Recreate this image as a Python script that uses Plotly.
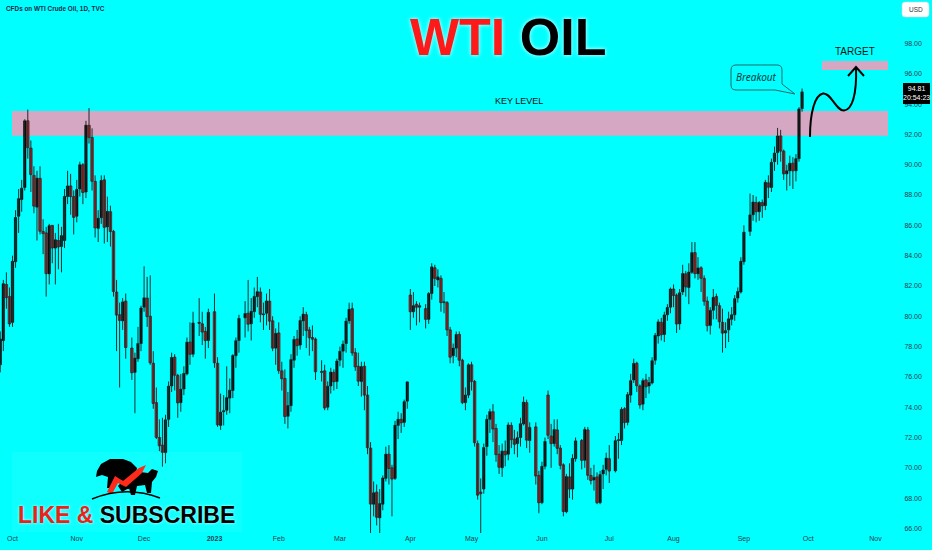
import plotly.graph_objects as go

# ---------------- data ----------------
dates = [
    "2022-09-27", "2022-09-28", "2022-09-29", "2022-09-30",
    "2022-10-03", "2022-10-04", "2022-10-05", "2022-10-06", "2022-10-07", "2022-10-10", "2022-10-11",
    "2022-10-12", "2022-10-13", "2022-10-14", "2022-10-17", "2022-10-18", "2022-10-19", "2022-10-20",
    "2022-10-21", "2022-10-24", "2022-10-25", "2022-10-26", "2022-10-27", "2022-10-28", "2022-10-31",
    "2022-11-01", "2022-11-02", "2022-11-03", "2022-11-04", "2022-11-07", "2022-11-08", "2022-11-09",
    "2022-11-10", "2022-11-11", "2022-11-14", "2022-11-15", "2022-11-16", "2022-11-17", "2022-11-18",
    "2022-11-21", "2022-11-22", "2022-11-23", "2022-11-25", "2022-11-28", "2022-11-29", "2022-11-30",
    "2022-12-01", "2022-12-02", "2022-12-05", "2022-12-06", "2022-12-07", "2022-12-08", "2022-12-09",
    "2022-12-12", "2022-12-13", "2022-12-14", "2022-12-15", "2022-12-16", "2022-12-19", "2022-12-20",
    "2022-12-21", "2022-12-22", "2022-12-23", "2022-12-27", "2022-12-28", "2022-12-29", "2022-12-30",
    "2023-01-03", "2023-01-04", "2023-01-05", "2023-01-06", "2023-01-09", "2023-01-10", "2023-01-11",
    "2023-01-12", "2023-01-13", "2023-01-17", "2023-01-18", "2023-01-19", "2023-01-20", "2023-01-23",
    "2023-01-24", "2023-01-25", "2023-01-26", "2023-01-27", "2023-01-30", "2023-01-31",
    "2023-02-01", "2023-02-02", "2023-02-03", "2023-02-06", "2023-02-07", "2023-02-08", "2023-02-09",
    "2023-02-10", "2023-02-13", "2023-02-14", "2023-02-15", "2023-02-16", "2023-02-17", "2023-02-21",
    "2023-02-22", "2023-02-23", "2023-02-24", "2023-02-27", "2023-02-28",
    "2023-03-01", "2023-03-02", "2023-03-03", "2023-03-06", "2023-03-07", "2023-03-08", "2023-03-09",
    "2023-03-10", "2023-03-13", "2023-03-14", "2023-03-15", "2023-03-16", "2023-03-17", "2023-03-20",
    "2023-03-21", "2023-03-22", "2023-03-23", "2023-03-24", "2023-03-27", "2023-03-28", "2023-03-29",
    "2023-03-30", "2023-03-31",
    "2023-04-03", "2023-04-04", "2023-04-05", "2023-04-06", "2023-04-10", "2023-04-11", "2023-04-12",
    "2023-04-13", "2023-04-14", "2023-04-17", "2023-04-18", "2023-04-19", "2023-04-20", "2023-04-21",
    "2023-04-24", "2023-04-25", "2023-04-26", "2023-04-27", "2023-04-28",
    "2023-05-01", "2023-05-02", "2023-05-03", "2023-05-04", "2023-05-05", "2023-05-08", "2023-05-09",
    "2023-05-10", "2023-05-11", "2023-05-12", "2023-05-15", "2023-05-16", "2023-05-17", "2023-05-18",
    "2023-05-19", "2023-05-22", "2023-05-23", "2023-05-24", "2023-05-25", "2023-05-26", "2023-05-30",
    "2023-05-31",
    "2023-06-01", "2023-06-02", "2023-06-05", "2023-06-06", "2023-06-07", "2023-06-08", "2023-06-09",
    "2023-06-12", "2023-06-13", "2023-06-14", "2023-06-15", "2023-06-16", "2023-06-20", "2023-06-21",
    "2023-06-22", "2023-06-23", "2023-06-26", "2023-06-27", "2023-06-28", "2023-06-29", "2023-06-30",
    "2023-07-03", "2023-07-05", "2023-07-06", "2023-07-07", "2023-07-10", "2023-07-11", "2023-07-12",
    "2023-07-13", "2023-07-14", "2023-07-17", "2023-07-18", "2023-07-19", "2023-07-20", "2023-07-21",
    "2023-07-24", "2023-07-25", "2023-07-26", "2023-07-27", "2023-07-28", "2023-07-31",
    "2023-08-01", "2023-08-02", "2023-08-03", "2023-08-04", "2023-08-07", "2023-08-08", "2023-08-09",
    "2023-08-10", "2023-08-11", "2023-08-14", "2023-08-15", "2023-08-16", "2023-08-17", "2023-08-18",
    "2023-08-21", "2023-08-22", "2023-08-23", "2023-08-24", "2023-08-25", "2023-08-28", "2023-08-29",
    "2023-08-30", "2023-08-31",
    "2023-09-01", "2023-09-05", "2023-09-06", "2023-09-07", "2023-09-08", "2023-09-11", "2023-09-12",
    "2023-09-13", "2023-09-14", "2023-09-15", "2023-09-18", "2023-09-19", "2023-09-20", "2023-09-21",
    "2023-09-22", "2023-09-25", "2023-09-26", "2023-09-27", "2023-09-28",
]

opens = [
    76.8, 78.4, 82.1, 81.3,
    79.6, 83.6, 86.6, 87.7, 88.5, 92.9, 91.1, 89.3, 87.2, 89.1, 85.6, 85.5, 82.8, 86.0, 84.5, 85.0, 84.6, 85.0, 87.9, 88.6, 87.9,
    86.6, 88.4, 90.0, 88.2, 92.6, 91.8, 88.9, 85.8, 86.5, 89.0, 85.9, 86.9, 85.6, 81.6, 80.1, 79.7, 81.0, 77.9, 76.3, 77.2, 78.2,
    80.6, 81.2, 80.0, 76.9, 74.3, 72.0, 71.5, 71.0, 73.2, 75.4, 77.3, 76.1, 74.3, 75.2, 76.2, 78.3, 77.5, 79.6, 79.5, 79.0, 78.4,
    80.3, 76.9, 72.8, 73.7, 73.8, 74.6, 75.1, 77.4, 78.4, 79.9, 80.2, 79.5, 80.3, 81.3, 81.6, 80.1, 80.2, 81.0, 79.7, 77.9,
    78.9, 76.4, 75.9, 73.4, 74.1, 77.1, 78.5, 78.1, 79.7, 80.1, 79.1, 78.6, 78.5, 76.3, 76.4, 74.0, 75.4, 76.3, 75.7,
    77.1, 77.7, 78.2, 79.7, 80.5, 77.6, 76.7, 75.7, 76.7, 74.8, 71.3, 67.6, 68.4, 66.7, 67.6, 69.3, 70.9, 70.0, 69.3, 72.8, 73.2, 73.0, 74.4,
    81.4, 80.3, 80.8, 80.6, 80.5, 79.8, 81.5, 83.2, 82.4, 82.5, 80.9, 80.9, 79.1, 77.4, 77.9, 78.8, 77.1, 74.3, 74.8,
    76.8, 75.7, 71.6, 68.4, 68.6, 71.4, 73.2, 73.7, 72.6, 70.9, 70.0, 71.1, 70.9, 72.8, 71.9, 71.6, 72.0, 72.9, 74.3, 71.8, 72.7, 69.5,
    67.7, 70.1, 74.8, 72.1, 71.6, 72.5, 71.3, 70.2, 67.1, 69.4, 68.6, 70.6, 71.8, 70.5, 72.5, 69.5, 69.2, 69.4, 67.7, 69.6, 69.9,
    70.6, 69.8, 71.8, 71.8, 73.9, 73.0, 74.8, 75.8, 76.9, 75.4, 74.2, 75.8, 75.4, 75.6, 77.1, 78.7, 79.6, 78.8, 80.1, 80.6,
    81.8, 81.4, 79.5, 81.6, 82.8, 81.9, 82.9, 84.2, 82.8, 83.2, 82.5, 81.0, 79.4, 80.4, 81.3, 80.7, 79.6, 78.9, 79.1, 79.8, 80.1, 81.2, 81.6,
    83.6, 85.6, 86.7, 87.5, 86.9, 87.5, 87.3, 88.8, 88.5, 90.2, 90.8, 91.9, 90.9, 89.4, 89.6, 90.1, 89.6, 90.4, 93.7,
]

highs = [
    79.0, 82.4, 82.9, 81.9,
    84.0, 87.0, 88.4, 89.0, 93.0, 93.64, 91.6, 89.9, 89.6, 89.9, 86.4, 85.9, 86.1, 86.0, 85.5, 86.1, 85.9, 88.4, 89.6, 89.4, 88.3,
    89.0, 90.2, 90.1, 92.9, 93.74, 92.4, 89.3, 87.0, 89.3, 89.3, 87.9, 87.3, 85.7, 82.4, 80.9, 81.2, 81.5, 78.6, 77.6, 79.3, 80.7,
    83.3, 82.6, 82.7, 77.7, 75.3, 73.2, 73.3, 73.5, 75.7, 77.6, 77.5, 76.2, 76.2, 76.7, 78.6, 79.6, 80.3, 81.2, 80.3, 79.3, 80.5,
    81.5, 77.3, 74.9, 74.8, 76.7, 75.9, 77.5, 78.6, 80.1, 81.0, 82.4, 81.2, 81.9, 82.6, 81.9, 80.9, 81.5, 81.8, 80.0, 79.2,
    79.6, 77.0, 76.5, 75.0, 77.5, 78.7, 79.1, 80.0, 80.6, 80.3, 79.3, 79.4, 78.6, 77.1, 76.8, 75.7, 76.6, 76.5, 77.2,
    78.0, 78.4, 79.9, 80.9, 80.9, 77.9, 77.6, 77.0, 77.0, 75.4, 71.7, 69.1, 68.9, 68.6, 69.5, 71.4, 71.5, 70.2, 73.1, 73.7, 73.6, 74.5, 75.7,
    81.8, 81.6, 81.0, 80.9, 80.8, 81.6, 83.5, 83.4, 83.1, 82.7, 81.6, 81.0, 79.3, 78.2, 79.0, 79.0, 77.2, 75.3, 76.9,
    77.0, 75.8, 71.8, 69.3, 71.6, 73.5, 73.9, 74.2, 72.9, 71.5, 71.6, 71.8, 73.0, 73.0, 72.5, 72.4, 73.3, 74.7, 74.5, 73.0, 73.0, 69.8,
    70.4, 72.0, 75.1, 72.9, 73.2, 73.2, 71.5, 70.3, 69.6, 70.3, 70.9, 72.0, 71.9, 72.7, 72.7, 70.0, 70.2, 69.7, 69.8, 70.2, 71.0,
    71.5, 72.1, 72.3, 74.0, 74.0, 75.0, 76.2, 77.2, 77.0, 75.5, 75.9, 76.2, 76.0, 77.3, 78.9, 79.8, 79.9, 80.3, 80.8, 81.9,
    82.1, 81.5, 81.8, 83.4, 83.0, 83.5, 84.9, 84.9, 83.9, 83.3, 82.7, 81.3, 80.6, 81.8, 81.5, 80.9, 80.5, 79.6, 80.3, 80.6, 81.4, 81.9, 83.9,
    86.0, 88.1, 88.0, 87.9, 87.6, 87.7, 89.0, 89.3, 90.4, 91.2, 92.43, 92.3, 91.0, 90.0, 90.6, 90.5, 90.7, 93.8, 95.03,
]

lows = [
    76.3, 77.7, 80.5, 79.3,
    79.3, 83.2, 85.5, 86.9, 88.3, 90.4, 88.2, 86.8, 85.0, 85.4, 84.1, 81.3, 82.1, 83.5, 82.1, 83.1, 82.9, 84.5, 87.4, 86.7, 85.4,
    86.2, 87.9, 87.4, 87.8, 91.4, 88.3, 85.2, 84.9, 86.1, 84.8, 84.9, 84.6, 81.3, 77.7, 75.3, 79.1, 77.2, 75.8, 73.6, 77.0, 77.7,
    80.3, 79.3, 76.8, 73.9, 71.9, 71.1, 70.08, 70.3, 72.7, 75.0, 75.1, 73.3, 73.7, 74.8, 76.1, 76.8, 77.3, 78.7, 78.1, 77.2, 77.9,
    76.6, 72.7, 72.5, 72.8, 73.5, 73.6, 74.6, 76.6, 77.6, 78.6, 79.0, 78.4, 79.9, 80.6, 79.6, 79.1, 79.4, 79.1, 77.7, 76.8,
    76.2, 75.1, 72.9, 72.6, 73.7, 76.6, 77.4, 77.8, 78.7, 77.9, 77.4, 77.7, 75.8, 75.7, 73.8, 73.8, 74.9, 75.1, 75.2,
    76.7, 76.6, 77.6, 79.5, 77.4, 76.4, 75.4, 74.7, 73.8, 70.9, 65.65, 66.8, 66.2, 64.12, 67.2, 69.1, 68.9, 66.8, 69.2, 71.9, 72.3, 72.7, 73.9,
    79.1, 79.9, 79.4, 79.6, 79.2, 79.5, 81.1, 82.0, 81.9, 80.3, 80.2, 78.7, 76.9, 76.9, 77.3, 76.7, 74.2, 73.8, 74.6,
    75.1, 71.4, 67.9, 63.64, 68.3, 70.8, 72.3, 71.7, 70.4, 69.6, 69.4, 70.1, 70.5, 71.3, 70.9, 70.7, 71.4, 72.8, 71.3, 71.0, 68.9, 67.0,
    67.6, 69.9, 71.9, 70.0, 71.4, 70.9, 69.9, 66.8, 67.0, 68.0, 67.9, 70.4, 69.9, 70.0, 69.2, 68.9, 68.5, 67.6, 67.6, 68.6, 69.5,
    69.0, 69.7, 70.6, 71.5, 72.6, 72.8, 74.3, 75.6, 75.0, 73.9, 73.8, 74.6, 74.9, 75.5, 76.8, 78.2, 78.4, 78.3, 79.7, 80.2,
    80.6, 78.9, 79.1, 81.4, 81.3, 80.8, 82.8, 82.5, 82.4, 81.6, 80.7, 79.0, 78.8, 79.8, 79.8, 79.2, 77.6, 77.9, 78.3, 79.4, 79.7, 80.9, 81.5,
    83.4, 85.3, 86.3, 86.2, 86.3, 86.5, 87.0, 87.8, 88.2, 89.6, 90.0, 90.2, 89.0, 88.3, 88.6, 88.4, 88.9, 90.2, 93.5,
]

closes = [
    78.5, 82.15, 81.23, 79.5,
    83.63, 86.52, 87.76, 88.45, 92.9, 91.13, 89.35, 87.27, 89.11, 85.61, 85.46, 82.82, 85.98, 84.51, 85.05, 84.58, 85.32, 87.91, 88.6, 87.90, 86.53,
    88.37, 90.0, 88.17, 92.61, 91.79, 88.91, 85.83, 86.47, 88.96, 85.87, 86.92, 85.59, 81.64, 80.08, 79.73, 80.95, 77.94, 76.28, 77.24, 78.20, 80.55,
    81.22, 79.98, 76.93, 74.25, 72.01, 71.46, 71.02, 73.17, 75.39, 77.28, 76.11, 74.29, 75.19, 76.23, 78.29, 77.49, 79.56, 79.53, 78.96, 78.40, 80.26,
    76.93, 72.84, 73.67, 73.77, 74.63, 75.12, 77.41, 78.39, 79.86, 80.18, 79.48, 80.33, 81.31, 81.62, 80.13, 80.15, 81.01, 79.68, 77.90, 78.87,
    76.41, 75.88, 73.39, 74.11, 77.14, 78.47, 78.06, 79.72, 80.14, 79.06, 78.59, 78.49, 76.34, 76.36, 73.95, 75.39, 76.32, 75.68, 77.05,
    77.69, 78.16, 79.68, 80.46, 77.58, 76.66, 75.72, 76.68, 74.80, 71.33, 67.61, 68.35, 66.74, 67.64, 69.33, 70.90, 69.96, 69.26, 72.81, 73.20, 72.97, 74.37, 75.67,
    80.3, 80.7, 80.6, 80.7, 79.8, 81.5, 83.26, 82.5, 82.6, 80.9, 80.9, 79.1, 77.3, 77.9, 78.8, 77.1, 74.3, 74.8, 76.8,
    75.7, 71.66, 68.2, 68.3, 71.34, 73.2, 73.71, 72.56, 70.87, 70.04, 71.11, 70.86, 72.83, 71.86, 71.55, 71.99, 72.91, 74.34, 71.83, 72.67, 69.46, 67.7,
    70.10, 71.74, 72.15, 71.6, 72.53, 71.29, 70.17, 67.12, 69.42, 68.6, 70.62, 71.78, 70.50, 72.53, 69.51, 69.16, 69.37, 67.70, 69.56, 69.86, 70.64,
    69.79, 71.79, 71.80, 73.86, 72.99, 74.83, 75.75, 76.89, 75.42, 74.15, 75.75, 75.35, 75.63, 77.07, 78.74, 79.63, 78.78, 80.09, 80.58, 81.80,
    81.37, 79.49, 81.55, 82.82, 81.94, 82.92, 84.2, 82.82, 83.19, 82.51, 80.99, 79.38, 80.39, 81.25, 80.72, 79.64, 78.89, 79.05, 79.83, 80.10, 81.16, 81.63, 83.63,
    85.55, 86.69, 87.54, 86.9, 87.51, 87.29, 88.84, 88.52, 90.16, 90.77, 91.9, 90.9, 89.4, 89.6, 90.1, 89.6, 90.4, 93.68, 94.81,
]

assert len(dates) == len(opens) == len(highs) == len(lows) == len(closes)

month_tick_dates = ["2022-10-03", "2022-11-01", "2022-12-01", "2023-01-03", "2023-02-01", "2023-03-01",
                    "2023-04-03", "2023-05-01", "2023-06-01", "2023-07-03", "2023-08-01", "2023-09-01",
                    "2023-10-02", "2023-11-01"]
month_tick_labels = ["Oct", "Nov", "Dec", "<b>2023</b>", "Feb", "Mar", "Apr", "May", "Jun", "Jul",
                     "Aug", "Sep", "Oct", "Nov"]
price_ticks = list(range(66, 100, 2))
price_tick_labels = [f"{v:.2f}" for v in price_ticks]

key_level = (91.92, 93.55)
target_zone = (96.25, 96.85)
last_price = "94.81"
countdown = "20:54:23"

# ---------------- layout geometry ----------------
W, H = 932, 550
ML, MR, MT, MB = 0, 44, 0, 17
PW, PH = W - ML - MR, H - MT - MB
BG = "#00ffff"
PINK = "#d5a7c3"
LABEL_FONT = "Liberation Sans Narrow, Liberation Sans, Arial"
DAY_MS = 86400000


def fx(px):
    return (px - ML) / PW


def fy(py):
    return 1 - (py - MT) / PH


def path(points_cmds):
    out = []
    for cmd in points_cmds:
        if isinstance(cmd, str):
            out.append(cmd)
        else:
            out.append(f"{fx(cmd[0]):.5f},{fy(cmd[1]):.5f}")
    return " ".join(out)


# candles centred at midday so that bar widths never touch the weekend breaks
xs = [d + " 12:00" for d in dates]

wick_x, wick_y = [], []
for x, lo, hi in zip(xs, lows, highs):
    wick_x += [x, x, None]
    wick_y += [lo, hi, None]

up_x, up_base, up_h, dn_x, dn_base, dn_h = [], [], [], [], [], []
for x, o, c in zip(xs, opens, closes):
    h = max(abs(c - o), 0.06)
    if c >= o:
        up_x.append(x); up_base.append(min(o, c)); up_h.append(h)
    else:
        dn_x.append(x); dn_base.append(min(o, c)); dn_h.append(h)

fig = go.Figure()
fig.add_trace(go.Scatter(x=wick_x, y=wick_y, mode="lines", line=dict(color="#1e2c2c", width=1),
                         hoverinfo="skip", showlegend=False))
fig.add_trace(go.Bar(x=up_x, y=up_h, base=up_base, width=0.8 * DAY_MS,
                     marker=dict(color="#000000", line=dict(color="#000000", width=0.5)),
                     hoverinfo="skip", showlegend=False))
fig.add_trace(go.Bar(x=dn_x, y=dn_h, base=dn_base, width=0.8 * DAY_MS,
                     marker=dict(color="#ee1c1c", line=dict(color="#3a2222", width=0.8)),
                     hoverinfo="skip", showlegend=False))

shapes = []
# key level band
shapes.append(dict(type="rect", xref="paper", yref="y", x0=fx(12), x1=1.0,
                   y0=key_level[0], y1=key_level[1], fillcolor=PINK, line=dict(width=0), layer="below"))
# target band
shapes.append(dict(type="rect", xref="paper", yref="y", x0=fx(822), x1=1.0,
                   y0=target_zone[0], y1=target_zone[1], fillcolor=PINK, line=dict(width=0), layer="below"))
# breakout callout
shapes.append(dict(type="path", xref="paper", yref="paper",
                   path=path(["M", (736, 65), "L", (777, 65), "Q", (782, 65), (782, 70), "L", (782, 84),
                              "L", (795, 94), "L", (775, 90), "L", (736, 90), "Q", (731, 90), (731, 85),
                              "L", (731, 70), "Q", (731, 65), (736, 65), "Z"]),
                   line=dict(color="#1f6b6b", width=1), fillcolor="rgba(0,0,0,0)"))
# projected curve arrow
shapes.append(dict(type="path", xref="paper", yref="paper",
                   path=path(["M", (810, 137), "C", (810, 112), (815, 95), (823, 93.5),
                              "C", (831, 92.5), (836, 111), (844, 110.5),
                              "C", (852, 110), (857, 95), (856, 67)]),
                   line=dict(color="#000000", width=2), fillcolor="rgba(0,0,0,0)"))
shapes.append(dict(type="path", xref="paper", yref="paper",
                   path=path(["M", (848, 76), "L", (856, 67), "L", (864, 76)]),
                   line=dict(color="#000000", width=2), fillcolor="rgba(0,0,0,0)"))
# price label & USD box on the scale
shapes.append(dict(type="rect", xref="paper", yref="paper", x0=fx(903), x1=fx(930), y0=fy(104), y1=fy(83),
                   fillcolor="#000000", line=dict(width=0)))
shapes.append(dict(type="path", xref="paper", yref="paper",
                   path=path(["M", (905, 2), "L", (926, 2), "Q", (929, 2), (929, 5), "L", (929, 14),
                              "Q", (929, 17), (926, 17), "L", (905, 17), "Q", (902, 17), (902, 14),
                              "L", (902, 5), "Q", (902, 2), (905, 2), "Z"]),
                   fillcolor="#ffffff", line=dict(color="#cfd8dc", width=0.6)))
# logo: faint glow panel, animals, arc
shapes.append(dict(type="rect", xref="paper", yref="paper", x0=fx(12), x1=fx(242), y0=fy(532), y1=fy(452),
                   fillcolor="rgba(255,255,255,0.06)", line=dict(width=0)))
shapes.append(dict(type="path", xref="paper", yref="paper",
                   path=path(["M", (97, 471), "L", (101, 464), "L", (110, 459), "L", (123, 459), "L", (131, 462),
                              "L", (137, 468), "L", (135, 478), "L", (129, 489), "L", (124, 489), "L", (123, 481),
                              "L", (115, 478), "L", (111, 488), "L", (107, 488), "L", (108, 477), "L", (102, 475),
                              "L", (96, 477), "Z"]),
                   fillcolor="#000000", line=dict(width=0)))
shapes.append(dict(type="path", xref="paper", yref="paper",
                   path=path(["M", (118, 486), "L", (127, 476), "L", (140, 472), "L", (148, 473), "L", (152, 469),
                              "L", (158, 471), "L", (156, 477), "L", (152, 482), "L", (151, 493), "L", (147, 493),
                              "L", (145, 485), "L", (137, 486), "L", (135, 495), "L", (131, 495), "L", (129, 488),
                              "L", (122, 492), "Z"]),
                   fillcolor="#000000", line=dict(width=0)))
shapes.append(dict(type="path", xref="paper", yref="paper",
                   path=path(["M", (107, 492), "L", (115, 476), "L", (123, 481), "L", (139, 468), "L", (146, 465),
                              "L", (142, 473), "L", (126, 487), "L", (118, 483), "L", (112, 494), "Z"]),
                   fillcolor="#ff2a1a", line=dict(width=0)))
shapes.append(dict(type="path", xref="paper", yref="paper",
                   path=path(["M", (92, 499), "Q", (126, 485), (160, 498)]),
                   line=dict(color="#000000", width=1.5), fillcolor="rgba(0,0,0,0)"))

annotations = [
    dict(text="CFDs on WTI Crude Oil, 1D, TVC", x=fx(4), y=fy(9), xanchor="left", yanchor="middle",
         font=dict(family=LABEL_FONT, size=6.4, color="#1b2a48", weight="bold")),
    dict(text='<span style="color:#ff1a1a">WTI</span> <span style="color:#000000">OIL</span>',
         x=fx(508), y=fy(37), xanchor="center", yanchor="middle",
         font=dict(family="Liberation Sans, Arial", size=52, weight="bold",
                   shadow="0px 0px 4px rgba(255,255,255,0.9)")),
    dict(text="KEY LEVEL", x=fx(519), y=fy(101), xanchor="center", yanchor="middle",
         font=dict(family=LABEL_FONT, size=9, color="#111111")),
    dict(text="TARGET", x=fx(855), y=fy(51), xanchor="center", yanchor="middle",
         font=dict(family=LABEL_FONT, size=10, color="#111111")),
    dict(text="<i>Breakout</i>", x=fx(756), y=fy(77), xanchor="center", yanchor="middle",
         font=dict(family="Noto Sans, DejaVu Sans", size=10, color="#14393d")),
    dict(text="USD", x=fx(915.5), y=fy(9.5), xanchor="center", yanchor="middle",
         font=dict(family=LABEL_FONT, size=6.5, color="#333333")),
    dict(text=f"{last_price}<br>{countdown}", x=fx(916.5), y=fy(93.5), xanchor="center", yanchor="middle",
         font=dict(family=LABEL_FONT, size=7, color="#ffffff")),
    dict(text='<span style="color:#e8231a">LIKE &amp;</span> <span style="color:#000000">SUBSCRIBE</span>',
         x=fx(126), y=fy(515), xanchor="center", yanchor="middle",
         font=dict(family="Liberation Sans, Arial", size=23, weight="bold",
                   shadow="0px 0px 3px rgba(255,255,255,0.8)")),
]
for a in annotations:
    a.update(xref="paper", yref="paper", showarrow=False)

fig.update_layout(
    width=W, height=H,
    margin=dict(l=ML, r=MR, t=MT, b=MB, pad=0),
    paper_bgcolor=BG, plot_bgcolor=BG,
    showlegend=False, barmode="overlay",
    shapes=shapes, annotations=annotations,
    xaxis=dict(
        type="date",
        rangebreaks=[dict(bounds=["sat", "mon"])],
        range=["2022-09-27 10:00", "2023-11-07 14:00"],
        tickvals=[d + " 12:00" for d in month_tick_dates], ticktext=month_tick_labels,
        tickfont=dict(family=LABEL_FONT, size=7, color="#2b3a4c"),
        showgrid=False, zeroline=False, showline=False, ticks="",
        fixedrange=True,
    ),
    yaxis=dict(
        side="right",
        range=[65.70, 100.87],
        tickvals=price_ticks, ticktext=price_tick_labels,
        tickfont=dict(family=LABEL_FONT, size=7, color="#2b3a4c"),
        showgrid=False, zeroline=False, showline=False,
        ticks="outside", ticklen=14, tickcolor="rgba(0,0,0,0)",
        fixedrange=True,
    ),
)

fig.write_html(
    "out.html",
    config={"displayModeBar": False},
    post_script="document.body.style.margin='0';document.body.style.overflow='hidden';"
                "document.body.style.background='" + BG + "';",
)
